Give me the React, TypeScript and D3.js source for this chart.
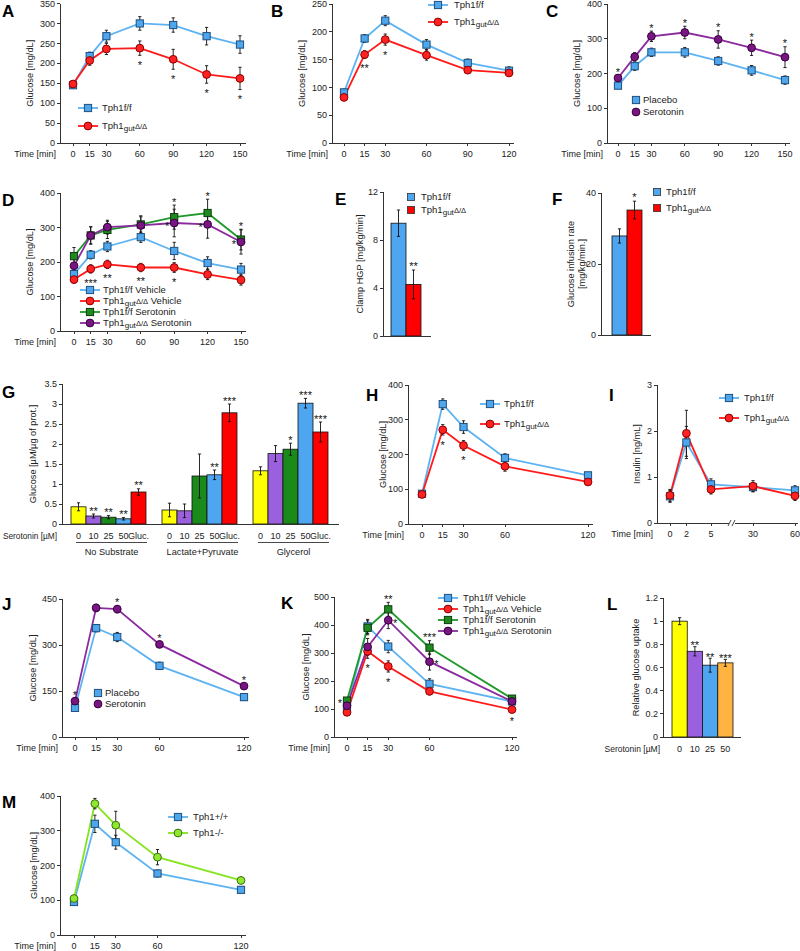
import React from 'react';
import * as d3 from 'd3';

const FONT = "'Liberation Sans', Arial, Helvetica, sans-serif";
const TXT = '#222';
const AX = '#333';

// ---------------- Data ----------------
const timesA = [0, 15, 30, 60, 90, 120, 150];
const aFlox = [145, 218, 268, 300, 296, 268, 247];
const aFloxErr = [5, 10, 15, 17, 18, 22, 22];
const aGut = [148, 207, 236, 238, 210, 172, 162];
const aGutErr = [5, 12, 14, 18, 25, 22, 28];
const legendA = ['Tph1f/f', 'Tph1gutΔ/Δ'];
const starsA = [
  { i: 3, s: 1, text: '*', pos: 'below' },
  { i: 4, s: 1, text: '*', pos: 'below' },
  { i: 5, s: 1, text: '*', pos: 'below' },
  { i: 6, s: 1, text: '*', pos: 'below' },
];

const timesB = [0, 15, 30, 60, 90, 120];
const bFlox = [91, 188, 220, 177, 144, 130];
const bFloxErr = [6, 7, 9, 9, 7, 7];
const bGut = [82, 159, 186, 158, 131, 126];
const bGutErr = [4, 7, 10, 9, 6, 5];
const starsB = [
  { i: 1, s: 1, text: '**', pos: 'below' },
  { i: 2, s: 1, text: '*', pos: 'below' },
];

const timesC = [0, 15, 30, 60, 90, 120, 150];
const cPlacebo = [165, 221, 261, 261, 236, 209, 181];
const cPlaceboErr = [8, 12, 12, 14, 12, 14, 12];
const cSero = [187, 248, 307, 318, 298, 274, 247];
const cSeroErr = [8, 12, 15, 18, 25, 22, 30];
const legendC = ['Placebo', 'Serotonin'];
const starsC = [
  { i: 0, s: 1, text: '*', pos: 'above' },
  { i: 2, s: 1, text: '*', pos: 'above' },
  { i: 3, s: 1, text: '*', pos: 'above' },
  { i: 4, s: 1, text: '*', pos: 'above' },
  { i: 5, s: 1, text: '*', pos: 'above' },
  { i: 6, s: 1, text: '*', pos: 'above' },
];

const timesD = [0, 15, 30, 60, 90, 120, 150];
const dFloxVeh = [165, 221, 245, 272, 232, 197, 178];
const dFloxVehErr = [10, 12, 15, 15, 25, 18, 18];
const dGutVeh = [149, 180, 193, 184, 184, 164, 148];
const dGutVehErr = [10, 12, 12, 12, 14, 15, 15];
const dFloxSer = [217, 277, 293, 309, 330, 342, 265];
const dFloxSerErr = [25, 25, 25, 25, 35, 40, 30];
const dGutSer = [189, 277, 301, 306, 313, 309, 258];
const dGutSerErr = [20, 25, 20, 25, 40, 40, 35];
const legendD = ['Tph1f/f Vehicle', 'Tph1gutΔ/Δ Vehicle', 'Tph1f/f Serotonin', 'Tph1gutΔ/Δ Serotonin'];
const starsD = [
  { i: 1, s: 1, text: '***', pos: 'below' },
  { i: 2, s: 1, text: '**', pos: 'below' },
  { i: 3, s: 1, text: '**', pos: 'below' },
  { i: 4, s: 1, text: '*', pos: 'below' },
  { i: 4, s: 2, text: '*', pos: 'above' },
  { i: 4, s: 3, text: '*', pos: 'left' },
  { i: 5, s: 2, text: '*', pos: 'above' },
  { i: 5, s: 3, text: '*', pos: 'left' },
  { i: 6, s: 2, text: '*', pos: 'above' },
  { i: 6, s: 3, text: '*', pos: 'left' },
];

const eGroups = ['Tph1f/f', 'Tph1gutΔ/Δ'];
const eVals = [9.4, 4.3];
const eErrs = [1.1, 1.2];
const eStars = ['', '**'];
const eTicks = [0, 4, 8, 12];

const fVals = [27.9, 35.2];
const fErrs = [2, 2.5];
const fStars = ['', '*'];
const fTicks = [0, 20, 40];

const gGroups = ['No Substrate', 'Lactate+Pyruvate', 'Glycerol'];
const gConds = ['0', '10', '25', '50', 'Gluc.'];
const gVals = [
  [0.43, 0.2, 0.17, 0.13, 0.8],
  [0.35, 0.33, 1.2, 1.23, 2.78],
  [1.33, 1.76, 1.87, 3.02, 2.3],
];
const gErrs = [
  [0.1, 0.05, 0.04, 0.03, 0.08],
  [0.17, 0.17, 0.55, 0.12, 0.22],
  [0.1, 0.2, 0.15, 0.12, 0.25],
];
const gStars = [
  ['', '**', '**', '**', '**'],
  ['', '', '', '**', '***'],
  ['', '', '*', '***', '***'],
];
const gTicks = [0, 0.5, 1, 1.5, 2, 2.5, 3, 3.5];

const timesH = [0, 15, 30, 60, 120];
const hFlox = [87, 345, 279, 190, 140];
const hFloxErr = [6, 15, 18, 12, 8];
const hGut = [85, 271, 226, 166, 121];
const hGutErr = [6, 15, 14, 14, 6];
const starsH = [
  { i: 1, s: 1, text: '*', pos: 'below' },
  { i: 2, s: 1, text: '*', pos: 'below' },
];

const timesI = [0, 2, 5, 30, 60];
const iFlox = [0.58, 1.75, 0.84, 0.78, 0.71];
const iFloxErr = [0.13, 0.35, 0.12, 0.1, 0.1];
const iGut = [0.6, 1.95, 0.73, 0.8, 0.59];
const iGutErr = [0.13, 0.5, 0.1, 0.12, 0.1];

const timesJ = [0, 15, 30, 60, 120];
const jPlacebo = [95, 355, 326, 232, 130];
const jPlaceboErr = [8, 12, 15, 12, 10];
const jSero = [117, 421, 417, 302, 166];
const jSeroErr = [10, 12, 12, 10, 8];
const starsJ = [
  { i: 0, s: 1, text: '*', pos: 'above' },
  { i: 2, s: 1, text: '*', pos: 'above' },
  { i: 3, s: 1, text: '*', pos: 'above' },
  { i: 4, s: 1, text: '*', pos: 'above' },
];

const timesK = [0, 15, 30, 60, 120];
const kFloxVeh = [104, 395, 323, 190, 127];
const kFloxVehErr = [10, 25, 22, 18, 10];
const kGutVeh = [88, 306, 252, 163, 98];
const kGutVehErr = [6, 25, 20, 12, 8];
const kFloxSer = [130, 390, 456, 319, 137];
const kFloxSerErr = [10, 25, 25, 25, 8];
const kGutSer = [112, 322, 417, 269, 127];
const kGutSerErr = [10, 30, 30, 30, 10];
const starsK = [
  { i: 0, s: 2, text: '*', pos: 'left' },
  { i: 1, s: 1, text: '*', pos: 'below' },
  { i: 2, s: 2, text: '**', pos: 'above' },
  { i: 2, s: 3, text: '*', pos: 'right' },
  { i: 2, s: 1, text: '*', pos: 'below' },
  { i: 3, s: 2, text: '***', pos: 'above' },
  { i: 3, s: 3, text: '*', pos: 'right' },
  { i: 4, s: 1, text: '*', pos: 'below' },
];

const lConds = ['0', '10', '25', '50'];
const lVals = [1.0, 0.74, 0.62, 0.64];
const lErrs = [0.03, 0.04, 0.06, 0.03];
const lStars = ['', '**', '**', '***'];
const lTicks = [0, 0.2, 0.4, 0.6, 0.8, 1, 1.2];

const timesM = [0, 15, 30, 60, 120];
const mWT = [95, 320, 267, 177, 130];
const mWTErr = [8, 25, 20, 10, 8];
const mKO = [105, 378, 316, 224, 157];
const mKOErr = [5, 15, 40, 22, 5];
const legendM = ['Tph1+/+', 'Tph1-/-'];

// ---------------- Styles ----------------
const BLUE = { line: '#5db3f2', fill: '#4ea6ec', stroke: '#1e4f7e', shape: 'sq' };
const RED = { line: '#ff1a1a', fill: '#ff2222', stroke: '#8a0000', shape: 'ci' };
const GREEN = { line: '#1f9a2a', fill: '#1f8a22', stroke: '#0b3d0b', shape: 'sq' };
const PURPLE = { line: '#8a2a9e', fill: '#7a1682', stroke: '#35003d', shape: 'ci' };
const LIME = { line: '#84e41c', fill: '#8fe830', stroke: '#3b6e10', shape: 'ci' };
const BAR_COLORS = ['#ffff00', '#9b60de', '#1a8a1a', '#4ea6f0', '#ff0000'];
const L_COLORS = ['#ffff00', '#9b60de', '#4ea6f0', '#ffb340'];

// ---------------- Helpers ----------------
function Lbl({ s }: { s: string }) {
  const k = s.indexOf('gut');
  if (k < 0) return <>{s}</>;
  const pre = s.slice(0, k);
  const rest = s.slice(k + 3);
  const dl = rest.slice(0, 3);
  const tail = rest.slice(3);
  return (
    <>
      {pre}
      <tspan dy={2} fontSize="0.85em">gut</tspan>
      <tspan dy={-2.8} fontSize="0.8em">{dl}</tspan>
      <tspan dy={0.8}>{tail}</tspan>
    </>
  );
}

function Marker({ x, y, st }: any) {
  if (st.shape === 'sq')
    return <rect x={x - 3.6} y={y - 3.6} width={7.2} height={7.2} fill={st.fill} stroke={st.stroke} strokeWidth={1} />;
  return <circle cx={x} cy={y} r={3.9} fill={st.fill} stroke={st.stroke} strokeWidth={1} />;
}

function ErrBar({ x, y1, y2 }: any) {
  return (
    <g stroke="#111" strokeWidth={0.9}>
      <line x1={x} x2={x} y1={y1} y2={y2} />
      <line x1={x - 1.6} x2={x + 1.6} y1={y1} y2={y1} />
      <line x1={x - 1.6} x2={x + 1.6} y1={y2} y2={y2} />
    </g>
  );
}

function Letter({ x, y, t }: any) {
  return <text x={x} y={y} fontSize={17} fontWeight="bold" fill="#000">{t}</text>;
}

function YLabel({ x, y, lines }: any) {
  const arr: string[] = Array.isArray(lines) ? lines : [lines];
  return (
    <g>
      {arr.map((l, k) => (
        <text key={k} transform={`translate(${x + 3 + k * 10.5},${y}) rotate(-90)`} textAnchor="middle" fontSize={9.2}>
          {l}
        </text>
      ))}
    </g>
  );
}

function Frame({ ax, y0, ys, ticks, xEnd, fmt }: any) {
  const top = ys(ticks[ticks.length - 1]);
  return (
    <g>
      <g stroke={AX} strokeWidth={1} shapeRendering="crispEdges">
        <line x1={ax} x2={ax} y1={y0} y2={top} />
        <line x1={ax} x2={xEnd} y1={y0} y2={y0} />
        {ticks.map((t: number) => (
          <line key={t} x1={ax - 3} x2={ax} y1={ys(t)} y2={ys(t)} />
        ))}
      </g>
      {ticks.map((t: number) => (
        <text key={'l' + t} x={ax - 5} y={ys(t) + 3.2} textAnchor="end" fontSize={9}>
          {fmt ? fmt(t) : String(t)}
        </text>
      ))}
    </g>
  );
}

function Star({ x, cy, text }: any) {
  return (
    <text x={x} y={cy + 6.5} textAnchor="middle" fontSize={11} fill="#111">
      {text}
    </text>
  );
}

function LinePanel(p: any) {
  const ys = d3.scaleLinear().domain([0, p.yMax]).range([p.y0, p.yTop]);
  const xs = p.xs || d3.scaleLinear().domain([p.times[0], p.times[p.times.length - 1]]).range([p.x0, p.x1]);
  const gen = d3
    .line<number>()
    .x((_, i) => xs(p.times[i]))
    .y((d) => ys(d));
  const yTicks = d3.range(0, p.yMax + 1e-9, p.yStep);
  return (
    <g>
      <Letter x={p.lx} y={p.ly} t={p.letter} />
      <Frame ax={p.ax} y0={p.y0} ys={ys} ticks={yTicks} xEnd={p.xEnd} />
      <g stroke={AX} shapeRendering="crispEdges">
        {p.times.map((t: number) => (
          <line key={t} x1={xs(t)} x2={xs(t)} y1={p.y0} y2={p.y0 + 3} />
        ))}
      </g>
      {p.brk ? (
        <g stroke={AX} strokeWidth={0.9}>
          <rect x={p.brk - 3} y={p.y0 - 2} width={6} height={4} fill="#fff" stroke="none" />
          <line x1={p.brk - 4} x2={p.brk - 1} y1={p.y0 + 3} y2={p.y0 - 3} />
          <line x1={p.brk} x2={p.brk + 3} y1={p.y0 + 3} y2={p.y0 - 3} />
        </g>
      ) : null}
      {p.times.map((t: number) => (
        <text key={'t' + t} x={xs(t)} y={p.y0 + 14} textAnchor="middle" fontSize={9}>
          {t}
        </text>
      ))}
      <text x={p.ax - 4} y={p.y0 + 14} textAnchor="end" fontSize={9}>
        Time [min]
      </text>
      {p.series.map((s: any, k: number) => (
        <path key={'p' + k} d={gen(s.v) as string} fill="none" stroke={s.st.line} strokeWidth={1.8} />
      ))}
      {p.series.map((s: any, k: number) =>
        s.v.map((v: number, i: number) => (
          <ErrBar key={'e' + k + '_' + i} x={xs(p.times[i])} y1={ys(v - s.e[i])} y2={ys(v + s.e[i])} />
        ))
      )}
      {p.series.map((s: any, k: number) =>
        s.v.map((v: number, i: number) => <Marker key={'m' + k + '_' + i} x={xs(p.times[i])} y={ys(v)} st={s.st} />)
      )}
      {(p.stars || []).map((st: any, k: number) => {
        const s = p.series[st.s];
        const v = s.v[st.i];
        const e = s.e[st.i];
        const x = xs(p.times[st.i]);
        let cx = x;
        let cy = ys(v);
        if (st.pos === 'below') cy = ys(v - e) + 7;
        else if (st.pos === 'above') cy = ys(v + e) - 6;
        else if (st.pos === 'left') cx = x - 7;
        else if (st.pos === 'right') cx = x + 7;
        return <Star key={'s' + k} x={cx} cy={cy} text={st.text} />;
      })}
      {p.legend ? (
        <g>
          {p.legend.items.map((lab: string, k: number) => {
            const st = p.series[k].st;
            const y = p.legend.ys[k];
            const mx = (p.legend.x1 + p.legend.x2) / 2;
            return (
              <g key={'lg' + k}>
                {p.legend.noLine ? null : (
                  <line x1={p.legend.x1} x2={p.legend.x2} y1={y} y2={y} stroke={st.line} strokeWidth={1.8} />
                )}
                <Marker x={mx} y={y} st={st} />
                <text x={p.legend.tx} y={y + 3.4} fontSize={9.5}>
                  <Lbl s={lab} />
                </text>
              </g>
            );
          })}
        </g>
      ) : null}
      <YLabel x={p.ylx} y={p.yly ?? (p.y0 + p.yTop) / 2} lines={p.ylabel || 'Glucose [mg/dL]'} />
    </g>
  );
}

function SimpleBars(p: any) {
  const ys = d3.scaleLinear().domain([0, p.ticks[p.ticks.length - 1]]).range([p.y0, p.yTop]);
  const xb = d3.scaleBand<string>().domain(p.cats).range([p.b0, p.b1]).padding(0);
  return (
    <g>
      <Letter x={p.lx} y={p.ly} t={p.letter} />
      {p.vals.map((v: number, i: number) => (
        <rect
          key={'b' + i}
          x={xb(p.cats[i])}
          y={ys(v)}
          width={xb.bandwidth()}
          height={p.y0 - ys(v)}
          fill={p.colors[i]}
          stroke="#111"
          strokeWidth={0.8}
        />
      ))}
      {p.vals.map((v: number, i: number) => (
        <ErrBar key={'e' + i} x={(xb(p.cats[i]) as number) + xb.bandwidth() / 2} y1={ys(v - p.errs[i])} y2={ys(v + p.errs[i])} />
      ))}
      {p.stars.map((s: string, i: number) =>
        s ? (
          <Star key={'s' + i} x={(xb(p.cats[i]) as number) + xb.bandwidth() / 2} cy={ys(p.vals[i] + p.errs[i]) - (p.starOff ?? 7)} text={s} />
        ) : null
      )}
      <Frame ax={p.ax} y0={p.y0} ys={ys} ticks={p.ticks} xEnd={p.xEnd} />
      {p.tickLabels
        ? p.cats.map((c: string, i: number) => (
            <text key={'x' + i} x={(xb(c) as number) + xb.bandwidth() / 2} y={p.y0 + 15} textAnchor="middle" fontSize={9}>
              {c}
            </text>
          ))
        : null}
      {p.xTitle ? (
        <text x={p.ax - 3} y={p.y0 + 15} textAnchor="end" fontSize={8.5}>
          {p.xTitle}
        </text>
      ) : null}
      {p.legend ? (
        <g>
          {p.legend.items.map((lab: string, k: number) => (
            <g key={'lg' + k}>
              <rect x={p.legend.x - 3.6} y={p.legend.ys[k] - 3.6} width={7.2} height={7.2} fill={p.colors[k]} stroke="#333" strokeWidth={0.8} />
              <text x={p.legend.tx} y={p.legend.ys[k] + 3.4} fontSize={9.5}>
                <Lbl s={lab} />
              </text>
            </g>
          ))}
        </g>
      ) : null}
      <YLabel x={p.ylx} y={(p.y0 + p.yTop) / 2} lines={p.ylabel} />
    </g>
  );
}

function PanelG() {
  const y0 = 524;
  const ys = d3.scaleLinear().domain([0, 3.5]).range([y0, 384]);
  const gx = d3.scaleBand<string>().domain(gGroups).range([71, 328]).paddingInner(16 / 91).paddingOuter(0);
  return (
    <g>
      <Letter x={2} y={398} t="G" />
      {gGroups.map((g, gi) => {
        const bx = d3.scaleBand<string>().domain(gConds).range([gx(g) as number, (gx(g) as number) + gx.bandwidth()]).padding(0);
        return (
          <g key={g}>
            {gConds.map((c, ci) => {
              const v = gVals[gi][ci];
              return (
                <rect key={c} x={bx(c)} y={ys(v)} width={bx.bandwidth()} height={y0 - ys(v)} fill={BAR_COLORS[ci]} stroke="#111" strokeWidth={0.8} />
              );
            })}
            {gConds.map((c, ci) => (
              <ErrBar
                key={'e' + c}
                x={(bx(c) as number) + bx.bandwidth() / 2}
                y1={ys(gVals[gi][ci] - gErrs[gi][ci])}
                y2={ys(gVals[gi][ci] + gErrs[gi][ci])}
              />
            ))}
            {gConds.map((c, ci) =>
              gStars[gi][ci] ? (
                <Star key={'s' + c} x={(bx(c) as number) + bx.bandwidth() / 2} cy={ys(gVals[gi][ci] + gErrs[gi][ci]) - 6} text={gStars[gi][ci]} />
              ) : null
            )}
            {gConds.map((c, ci) => (
              <text key={'t' + c} x={(bx(c) as number) + bx.bandwidth() / 2} y={y0 + 15} textAnchor="middle" fontSize={9}>
                {c}
              </text>
            ))}
            <line
              x1={(gx(g) as number) + 5}
              x2={(gx(g) as number) + gx.bandwidth() + 1}
              y1={y0 + 18.5}
              y2={y0 + 18.5}
              stroke={AX}
              strokeWidth={0.9}
            />
            <text x={(gx(g) as number) + gx.bandwidth() / 2 + 3} y={y0 + 31} textAnchor="middle" fontSize={9.2}>
              {g}
            </text>
          </g>
        );
      })}
      <Frame ax={62} y0={y0} ys={ys} ticks={gTicks} xEnd={339} />
      <text x={57} y={y0 + 15} textAnchor="end" fontSize={8.3}>
        Serotonin [µM]
      </text>
      <YLabel x={33} y={454} lines="Glucose [µM/µg of prot.]" />
    </g>
  );
}

export default function App() {
  const iScale = d3.scaleLinear().domain([0, 5, 30, 60]).range([670, 711, 753, 795]);
  return (
    <svg
      width={800}
      height={951}
      style={{ position: 'absolute', left: 0, top: 0 }}
      fontFamily={FONT}
      fill={TXT}
    >
      <rect width={800} height={951} fill="#fff" />

      {/* A */}
      <LinePanel
        letter="A" lx={2} ly={17}
        ax={60} y0={143} yTop={3.5} yMax={350} yStep={50}
        times={timesA} x0={73} x1={240} xEnd={246}
        series={[{ v: aFlox, e: aFloxErr, st: BLUE }, { v: aGut, e: aGutErr, st: RED }]}
        stars={starsA}
        legend={{ items: legendA, x1: 78, x2: 98, tx: 102, ys: [108, 126] }}
        ylx={30}
      />

      {/* B */}
      <LinePanel
        letter="B" lx={271} ly={17}
        ax={332} y0={143} yTop={4} yMax={250} yStep={50}
        times={timesB} x0={344} x1={509} xEnd={514}
        series={[{ v: bFlox, e: bFloxErr, st: BLUE }, { v: bGut, e: bGutErr, st: RED }]}
        stars={starsB}
        legend={{ items: legendA, x1: 428, x2: 448, tx: 454, ys: [5, 22] }}
        ylx={302}
      />

      {/* C */}
      <LinePanel
        letter="C" lx={546} ly={17}
        ax={607} y0={143} yTop={4} yMax={400} yStep={100}
        times={timesC} x0={618} x1={785} xEnd={790}
        series={[{ v: cPlacebo, e: cPlaceboErr, st: BLUE }, { v: cSero, e: cSeroErr, st: PURPLE }]}
        stars={starsC}
        legend={{ items: legendC, x1: 636, x2: 636, tx: 643, ys: [100, 112], noLine: true }}
        ylx={577}
      />

      {/* D */}
      <LinePanel
        letter="D" lx={2} ly={206}
        ax={60} y0={331} yTop={193} yMax={400} yStep={100}
        times={timesD} x0={74} x1={241} xEnd={246}
        series={[
          { v: dFloxVeh, e: dFloxVehErr, st: BLUE },
          { v: dGutVeh, e: dGutVehErr, st: RED },
          { v: dFloxSer, e: dFloxSerErr, st: GREEN },
          { v: dGutSer, e: dGutSerErr, st: PURPLE },
        ]}
        stars={starsD}
        legend={{ items: legendD, x1: 80, x2: 100, tx: 103, ys: [290, 301, 312, 323] }}
        ylx={30}
      />

      {/* E */}
      <SimpleBars
        letter="E" lx={335} ly={205}
        ax={383} y0={336} yTop={192} ticks={eTicks} xEnd={431}
        cats={eGroups} vals={eVals} errs={eErrs} stars={eStars}
        b0={391} b1={421} colors={[BAR_COLORS[3], BAR_COLORS[4]]}
        legend={{ items: eGroups, x: 411, tx: 421, ys: [197, 210] }}
        ylx={360} ylabel="Clamp HGP [mg/kg/min]"
      />

      {/* F */}
      <SimpleBars
        letter="F" lx={552} ly={205}
        ax={601} y0={335} yTop={193} ticks={fTicks} xEnd={651}
        cats={eGroups} vals={fVals} errs={fErrs} stars={fStars}
        b0={612} b1={642} colors={[BAR_COLORS[3], BAR_COLORS[4]]}
        legend={{ items: eGroups, x: 657, tx: 666, ys: [192, 208] }}
        ylx={571} ylabel={['Glucose infusion rate', '[mg/kg/min.]']}
      />

      {/* G */}
      <PanelG />

      {/* H */}
      <LinePanel
        letter="H" lx={366} ly={401}
        ax={408} y0={524} yTop={385} yMax={400} yStep={100}
        times={timesH} x0={422} x1={588} xEnd={593}
        series={[{ v: hFlox, e: hFloxErr, st: BLUE }, { v: hGut, e: hGutErr, st: RED }]}
        stars={starsH}
        legend={{ items: legendA, x1: 480, x2: 500, tx: 504, ys: [404, 424] }}
        ylx={383}
      />

      {/* I */}
      <LinePanel
        letter="I" lx={609} ly={401}
        ax={657} y0={523} yTop={385} yMax={3} yStep={1}
        times={timesI} xs={iScale} xEnd={798} brk={732}
        series={[{ v: iFlox, e: iFloxErr, st: BLUE }, { v: iGut, e: iGutErr, st: RED }]}
        legend={{ items: legendA, x1: 719, x2: 739, tx: 744, ys: [398, 418] }}
        ylx={637} ylabel="Insulin [ng/mL]"
      />

      {/* J */}
      <LinePanel
        letter="J" lx={2} ly={610}
        ax={62} y0={737} yTop={599} yMax={450} yStep={150}
        times={timesJ} x0={75} x1={244} xEnd={249}
        series={[{ v: jPlacebo, e: jPlaceboErr, st: BLUE }, { v: jSero, e: jSeroErr, st: PURPLE }]}
        stars={starsJ}
        legend={{ items: legendC, x1: 98, x2: 98, tx: 105, ys: [693, 704], noLine: true }}
        ylx={33}
      />

      {/* K */}
      <LinePanel
        letter="K" lx={281} ly={609}
        ax={334} y0={737} yTop={597} yMax={500} yStep={100}
        times={timesK} x0={347} x1={512} xEnd={517}
        series={[
          { v: kFloxVeh, e: kFloxVehErr, st: BLUE },
          { v: kGutVeh, e: kGutVehErr, st: RED },
          { v: kFloxSer, e: kFloxSerErr, st: GREEN },
          { v: kGutSer, e: kGutSerErr, st: PURPLE },
        ]}
        stars={starsK}
        legend={{ items: legendD, x1: 438, x2: 458, tx: 463, ys: [598, 609, 620, 631] }}
        ylx={306}
      />

      {/* L */}
      <SimpleBars
        letter="L" lx={607} ly={610}
        ax={663} y0={737} yTop={598} ticks={lTicks} xEnd={741}
        cats={lConds} vals={lVals} errs={lErrs} stars={lStars} starOff={4}
        b0={672} b1={733} colors={L_COLORS}
        tickLabels xTitle="Serotonin [µM]"
        ylx={636} ylabel="Relative glucose uptake"
      />

      {/* M */}
      <LinePanel
        letter="M" lx={2} ly={808}
        ax={60} y0={935} yTop={796} yMax={400} yStep={100}
        times={timesM} x0={74} x1={241} xEnd={246}
        series={[{ v: mWT, e: mWTErr, st: BLUE }, { v: mKO, e: mKOErr, st: LIME }]}
        legend={{ items: legendM, x1: 168, x2: 188, tx: 193, ys: [817, 833] }}
        ylx={34}
      />
    </svg>
  );
}
